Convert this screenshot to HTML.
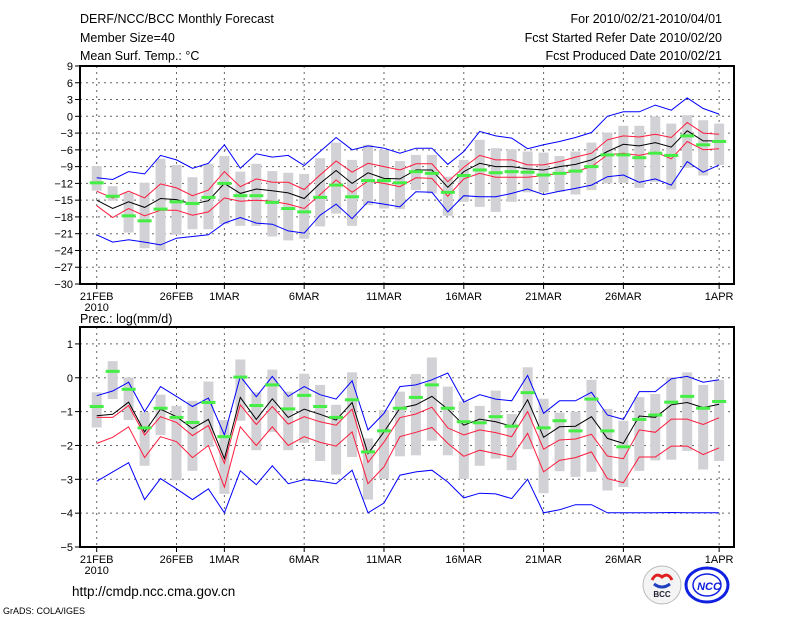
<!DOCTYPE html>
<html><head><meta charset="utf-8"><style>
body{margin:0;background:#fff;}
svg{display:block;font-family:"Liberation Sans",sans-serif;}
</style></head><body>
<svg id="chart" width="800" height="618" viewBox="0 0 800 618" xmlns="http://www.w3.org/2000/svg">
<rect width="800" height="618" fill="#fff"/>
<g font-size="12.5" fill="#000">
<text x="80" y="23">DERF/NCC/BCC Monthly Forecast</text>
<text x="80" y="42">Member Size=40</text>
<text x="80" y="60">Mean Surf. Temp.: °C</text>
<text x="722" y="23" text-anchor="end">For 2010/02/21-2010/04/01</text>
<text x="722" y="42" text-anchor="end">Fcst Started Refer Date 2010/02/20</text>
<text x="722" y="60" text-anchor="end">Fcst Produced Date 2010/02/21</text>
<text x="80" y="323">Prec.: log(mm/d)</text>
</g>
<text x="72" y="596" font-size="13.5">http://cmdp.ncc.cma.gov.cn</text>
<text x="3" y="614" font-size="9">GrADS: COLA/IGES</text>
<g>
<circle cx="662" cy="585" r="19" fill="#f4f4f4" stroke="#bbb"/>
<path d="M652 580 q4 -8 10 -3 q6 -5 10 3" stroke="#e02020" stroke-width="3" fill="none"/>
<path d="M654 584 q8 6 16 0" stroke="#2040c0" stroke-width="3" fill="none"/>
<text x="662" y="597" font-size="8" font-weight="bold" text-anchor="middle" fill="#223">BCC</text>
</g>
<g>
<ellipse cx="707" cy="585" rx="21" ry="17" fill="none" stroke="#1020e0" stroke-width="3"/>
<ellipse cx="707" cy="585" rx="14" ry="11" fill="none" stroke="#1020e0" stroke-width="1.5"/>
<text x="709" y="590" font-size="11" font-weight="bold" font-style="italic" text-anchor="middle" fill="#1020e0">NCC</text>
</g>
<g id="plots"></g>
</svg>
<script>
const days = 40;
const dateLabels = ["21FEB","26FEB","1MAR","6MAR","11MAR","16MAR","21MAR","26MAR","1APR"];
const dateIdx = [0,5,8,13,18,23,28,33,39];
const tTicks = [9,6,3,0,-3,-6,-9,-12,-15,-18,-21,-24,-27,-30];
const pTicks = [1,0,-1,-2,-3,-4,-5];

const tMean=[-15.0,-16.5,-15.3,-16.3,-14.7,-14.9,-15.7,-15.1,-12.0,-13.8,-13.0,-13.3,-13.7,-14.7,-12.0,-9.7,-12.0,-10.1,-11.1,-11.2,-9.6,-9.6,-12.7,-9.9,-8.4,-9.0,-9.0,-9.4,-9.6,-9.0,-8.6,-7.8,-6.3,-5.0,-5.3,-4.7,-5.5,-2.6,-4.4,-4.4];
const tRedHi=[-13.4,-14.6,-13.4,-14.6,-12.1,-12.8,-14.2,-13.2,-9.9,-12.6,-11.2,-11.8,-11.8,-13.1,-10.5,-8.0,-10.0,-8.4,-9.0,-9.6,-8.5,-8.5,-11.7,-9.1,-7.0,-7.8,-7.8,-8.7,-8.7,-8.1,-7.3,-6.6,-4.2,-3.5,-3.7,-3.2,-3.8,-1.1,-3.0,-3.2];
const tRedLo=[-16.0,-18.1,-16.5,-17.8,-16.8,-16.8,-17.7,-17.1,-14.6,-15.2,-15.0,-15.2,-15.7,-16.5,-14.0,-11.4,-13.6,-11.6,-12.0,-12.6,-11.0,-11.1,-14.3,-11.2,-10.2,-10.9,-10.9,-10.9,-10.6,-10.2,-9.9,-9.0,-6.9,-6.6,-7.0,-6.4,-7.6,-4.5,-6.0,-5.8];
const tMax=[-11.0,-11.3,-9.9,-10.3,-7.0,-7.8,-9.3,-8.4,-5.1,-9.3,-6.7,-7.3,-7.0,-8.8,-6.3,-3.8,-6.0,-5.3,-5.7,-6.6,-5.7,-5.7,-8.6,-6.3,-2.7,-3.5,-3.9,-5.8,-5.1,-4.5,-3.8,-2.9,0.0,0.8,0.8,2.0,1.1,3.3,1.4,0.4];
const tMin=[-21.2,-22.5,-22.1,-22.5,-23.0,-21.8,-21.5,-21.2,-19.1,-18.1,-19.1,-19.3,-20.5,-20.9,-17.7,-15.7,-18.3,-15.3,-15.7,-16.2,-13.5,-13.6,-17.1,-14.2,-14.4,-14.4,-13.8,-13.0,-14.0,-13.4,-12.9,-12.3,-10.8,-10.5,-11.8,-11.2,-12.3,-8.1,-10.0,-8.7];
const tObs=[-11.9,-14.3,-17.8,-18.7,-16.6,-15.3,-15.6,-14.5,-12.0,-14.2,-14.2,-15.4,-16.5,-17.1,-14.5,-12.3,-14.4,-11.5,-11.5,-11.9,-9.9,-10.2,-13.6,-10.6,-9.6,-10.1,-9.9,-10.0,-10.5,-10.2,-9.8,-9.0,-6.9,-6.9,-7.4,-6.6,-7.0,-3.5,-5.1,-4.5];
const tBarHi=[-8.9,-12.5,-13.6,-11.9,-7.6,-8.7,-10.9,-8.5,-7.1,-9.9,-8.5,-9.8,-10.1,-10.3,-7.5,-4.7,-7.8,-5.1,-6.0,-8.0,-6.9,-6.9,-10.8,-7.8,-4.2,-5.7,-5.9,-6.3,-6.5,-7.1,-6.3,-4.7,-2.9,-1.7,-1.7,0.0,-1.3,0.2,-0.7,-1.3];
const tBarLo=[-13.3,-15.1,-20.8,-23.6,-24.0,-21.2,-20.2,-20.2,-19.3,-19.6,-19.6,-21.5,-22.2,-21.9,-19.7,-17.4,-19.6,-15.9,-16.5,-16.6,-13.2,-13.8,-17.8,-15.3,-16.2,-17.1,-15.3,-13.6,-13.6,-13.5,-14.0,-13.2,-12.0,-11.9,-12.8,-11.7,-13.1,-9.2,-10.6,-8.7];

const pMean=[-1.12,-1.08,-0.72,-1.6,-0.93,-1.15,-1.5,-1.23,-2.39,-0.58,-1.23,-0.62,-1.17,-0.93,-1.08,-1.25,-0.73,-2.24,-1.6,-0.9,-0.8,-0.55,-0.93,-1.4,-1.22,-1.3,-1.43,-0.65,-1.76,-1.45,-1.43,-1.15,-1.79,-1.94,-1.13,-1.17,-0.8,-0.73,-0.88,-0.78];
const pRedHi=[-1.17,-1.17,-0.82,-1.69,-1.15,-1.32,-1.71,-1.41,-2.53,-0.8,-1.38,-0.85,-1.37,-1.15,-1.3,-1.4,-0.93,-2.5,-1.9,-1.18,-1.07,-0.87,-1.48,-1.69,-1.54,-1.62,-1.74,-1.0,-2.11,-1.84,-1.81,-1.67,-2.31,-2.39,-1.54,-1.61,-1.22,-1.22,-1.38,-1.18];
const pRedLo=[-1.94,-1.76,-1.45,-2.36,-1.74,-1.89,-2.36,-2.0,-3.23,-1.45,-2.0,-1.45,-2.0,-1.74,-1.91,-2.02,-1.6,-3.13,-2.63,-1.74,-1.61,-1.47,-1.94,-2.32,-2.14,-2.24,-2.34,-1.64,-2.78,-2.44,-2.36,-2.19,-2.98,-3.1,-2.34,-2.34,-2.02,-2.02,-2.27,-2.07];
const pMax=[-0.53,-0.39,-0.13,-1.0,-0.26,-0.55,-0.85,-0.6,-1.69,0.04,-0.56,0.04,-0.55,-0.26,-0.5,-0.63,-0.09,-1.54,-1.05,-0.26,-0.21,-0.06,0.14,-0.72,-0.5,-0.63,-0.68,0.07,-1.05,-0.68,-0.68,-0.43,-1.1,-1.23,-0.41,-0.41,-0.03,0.04,-0.13,-0.06];
const pMin=[-3.06,-2.78,-2.51,-3.6,-2.98,-3.28,-3.6,-3.28,-3.99,-2.75,-3.16,-2.6,-3.13,-3.01,-3.06,-3.13,-2.73,-3.99,-3.7,-2.88,-2.78,-2.73,-3.08,-3.55,-3.41,-3.43,-3.57,-3.0,-3.99,-3.9,-3.75,-3.75,-3.99,-3.99,-3.99,-3.99,-3.98,-3.99,-3.99,-3.99];
const pObs=[-0.85,0.19,-0.34,-1.48,-0.9,-1.17,-1.32,-0.73,-1.74,0.02,-0.82,-0.21,-0.92,-0.52,-0.85,-1.17,-0.65,-2.19,-1.57,-0.9,-0.58,-0.21,-0.9,-1.3,-1.33,-1.15,-1.43,-0.44,-1.48,-1.27,-1.57,-0.63,-1.57,-2.04,-1.23,-1.1,-0.72,-0.55,-0.9,-0.7];
const pBarHi=[-0.43,0.49,0.01,-1.02,-0.5,-0.83,-0.68,-0.11,-1.25,0.54,-0.43,0.24,-0.41,0.12,-0.21,-0.8,0.16,-1.79,-0.95,-0.41,0.11,0.6,-0.26,-0.7,-0.83,-0.38,-1.07,0.31,-0.62,-1.03,-1.0,-0.06,-0.92,-1.27,-0.57,-0.48,0.02,0.16,-0.21,-0.06];
const pBarLo=[-1.47,-0.63,-1.25,-2.6,-1.69,-3.03,-2.75,-2.04,-3.43,-1.27,-2.14,-1.6,-2.14,-1.92,-2.46,-2.86,-2.34,-3.6,-2.98,-2.32,-2.29,-1.86,-2.29,-2.99,-2.6,-2.39,-2.73,-2.11,-3.41,-2.76,-2.93,-2.78,-3.33,-3.23,-2.75,-2.44,-2.42,-2.16,-2.71,-2.46];

const NS="http://www.w3.org/2000/svg";
const root=document.getElementById('plots');
function mk(tag,attrs,parent){const e=document.createElementNS(NS,tag);for(const k in attrs)e.setAttribute(k,attrs[k]);(parent||root).appendChild(e);return e;}
const xOf=i=>96.7+i*15.96;
const L=80,R=734;

function panel(name,top,bottom,vTop,vBot,ticks,series){
  const y=v=>top+(vTop-v)*(bottom-top)/(vTop-vBot);
  const g=mk('g',{});
  
  
  ticks.forEach(t=>{
    const yy=y(t);
    if(t!==vTop&&t!==vBot){const gl=mk('line',{x1:L,x2:R,y1:yy,y2:yy,stroke:'#666','stroke-dasharray':'2,4','stroke-width':1},g);
      
      }
    mk('line',{x1:L-5,x2:L,y1:yy,y2:yy,stroke:'#000'},g);
    const tx=mk('text',{x:L-7,y:yy+4,'font-size':11,'text-anchor':'end'},g);
    tx.textContent=(t<0?'\u2212'+(-t):t);
    
    
  });
  dateIdx.forEach((d,k)=>{
    const xx=xOf(d);
    const gl=mk('line',{x1:xx,x2:xx,y1:top,y2:bottom,stroke:'#666','stroke-dasharray':'2,4'},g);
    
    
    mk('line',{x1:xx,x2:xx,y1:bottom,y2:bottom+5,stroke:'#000'},g);
    const tx=mk('text',{x:xx,y:bottom+16,'font-size':11,'text-anchor':'middle'},g);
    tx.textContent=dateLabels[k];
    
    
  });
  const yr=mk('text',{x:xOf(0),y:bottom+27,'font-size':11,'text-anchor':'middle'},g);
  yr.textContent='2010';
  
  
  for(let i=0;i<days;i++){
    const b=mk('rect',{x:xOf(i)-5,y:y(series.hi[i]),width:10,height:y(series.lo[i])-y(series.hi[i]),fill:'#d2d2d6'},g);
    
    
  }
  const lines=[[series.max,'#0000ff','max-line'],[series.min,'#0000ff','min-line'],[series.rhi,'#ff1a3c','upper-line'],[series.rlo,'#ff1a3c','lower-line'],[series.mean,'#000','mean-line']];
  lines.forEach(([arr,c,n])=>{
    const p=mk('polyline',{points:arr.map((v,i)=>xOf(i).toFixed(1)+','+y(v).toFixed(1)).join(' '),fill:'none',stroke:c,'stroke-width':1},g);
    
    
  });
  for(let i=0;i<days;i++){
    const o=mk('rect',{x:xOf(i)-7,y:y(series.obs[i])-1.5,width:14,height:3,fill:'#44ee44'},g);
    
    
  }
  const fr=mk('rect',{x:L,y:top,width:R-L,height:bottom-top,fill:'none',stroke:'#000','stroke-width':2},g);
  
  
}
panel('temperature-panel',66,284,9,-30,tTicks,{mean:tMean,rhi:tRedHi,rlo:tRedLo,max:tMax,min:tMin,obs:tObs,hi:tBarHi,lo:tBarLo});
panel('precip-panel',327,547,1.5,-5,pTicks,{mean:pMean,rhi:pRedHi,rlo:pRedLo,max:pMax,min:pMin,obs:pObs,hi:pBarHi,lo:pBarLo});
</script>
</body></html>
